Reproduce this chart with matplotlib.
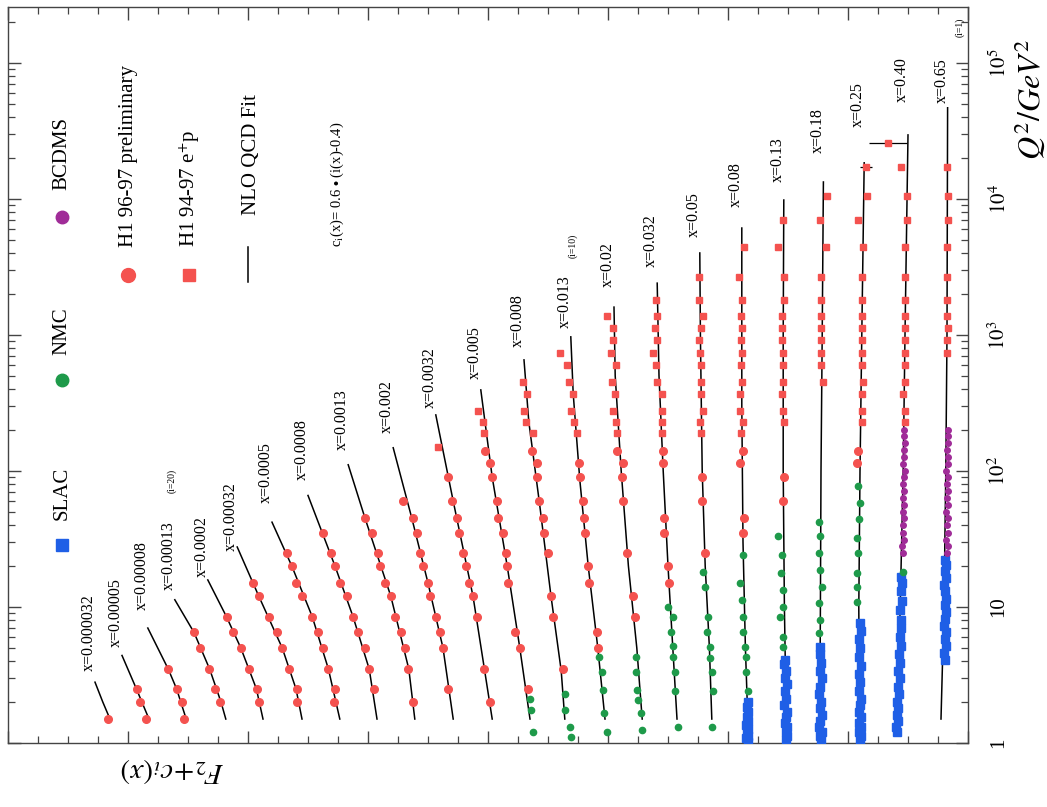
import numpy as np
import matplotlib
matplotlib.use('Agg')
import matplotlib.pyplot as plt
from matplotlib.ticker import MultipleLocator, FixedLocator, LogLocator, FuncFormatter, NullFormatter

plt.rcParams['font.family'] = ['Liberation Serif', 'DejaVu Serif']
plt.rcParams['mathtext.fontset'] = 'stix'

# ---------------- data (bins ordered from smallest x, i=23, to largest x, i=1) ----------------
x_labels = ['x=0.000032', 'x=0.00005', 'x=0.00008', 'x=0.00013', 'x=0.0002', 'x=0.00032',
            'x=0.0005', 'x=0.0008', 'x=0.0013', 'x=0.002', 'x=0.0032', 'x=0.005',
            'x=0.008', 'x=0.013', 'x=0.02', 'x=0.032', 'x=0.05', 'x=0.08',
            'x=0.13', 'x=0.18', 'x=0.25', 'x=0.40', 'x=0.65']

# NLO QCD fit, F2 + c_i(x) vs Q2
fit_q = [[1.5, 2.0, 2.8], [1.5, 2.5, 4.4], [1.5, 2.5, 3.5, 7.0], [1.5, 2, 3.5, 6.5, 11.3],
         [1.5, 2.5, 5, 8.5, 15.8], [1.5, 2.5, 5, 12, 27.6], [1.5, 3.5, 8.5, 20, 42],
         [1.5, 3.5, 8.5, 20, 66], [1.5, 3.5, 12, 45, 111], [1.5, 5, 15, 45, 148],
         [1.5, 3.5, 12, 60, 258], [1.5, 5, 20, 90, 394], [1.5, 3.4, 12, 57, 230, 655],
         [1.5, 5, 20, 86, 370, 967], [1.5, 5, 20, 100, 500, 1600], [1.5, 5, 20, 100, 500, 2400],
         [1.5, 5, 20, 100, 1000, 4000], [1.5, 5, 30, 300, 6100], [1.5, 10, 100, 1000, 9800],
         [1.5, 10, 100, 1000, 13300], [1.5, 10, 100, 1000, 18400], [1.5, 10, 100, 1000, 29500],
         [1.5, 10, 100, 1000, 46700]]
fit_v = [[14.30, 14.42, 14.55], [13.65, 13.86, 14.10], [13.03, 13.19, 13.33, 13.67],
         [12.37, 12.45, 12.64, 12.90, 13.22], [11.75, 11.86, 12.12, 12.36, 12.67],
         [11.10, 11.20, 11.43, 11.82, 12.18], [10.47, 10.66, 10.93, 11.27, 11.60],
         [9.85, 9.98, 10.25, 10.55, 11.0], [9.22, 9.32, 9.62, 10.05, 10.33],
         [8.58, 8.75, 9.0, 9.27, 9.58], [7.93, 8.06, 8.25, 8.58, 8.87],
         [7.30, 7.47, 7.68, 7.93, 8.12], [6.72, 6.78, 6.95, 7.14, 7.32, 7.40],
         [6.05, 6.17, 6.33, 6.47, 6.58, 6.62], [5.43, 5.52, 5.66, 5.78, 5.88, 5.90],
         [4.85, 4.92, 5.0, 5.08, 5.15, 5.18], [4.27, 4.31, 4.38, 4.43, 4.46, 4.47],
         [3.67, 3.71, 3.75, 3.77, 3.77], [3.03, 3.06, 3.08, 3.08, 3.07],
         [2.47, 2.46, 2.45, 2.43, 2.41], [1.81, 1.82, 1.80, 1.77, 1.73],
         [1.18, 1.13, 1.08, 1.05, 1.00], [0.45, 0.40, 0.37, 0.35, 0.34]]

# H1 96-97 preliminary (circles)
h1c_q = [[1.5], [1.5, 2.0, 2.5], [1.5, 2.0, 2.5, 3.5], [2, 2.5, 3.5, 5, 6.5],
         [2, 2.5, 3.5, 5, 6.5, 8.5], [2, 2.5, 3.5, 5, 6.5, 8.5, 12, 15],
         [2, 2.5, 3.5, 5, 6.5, 8.5, 12, 15, 20, 25], [2.5, 3.5, 5, 6.5, 8.5, 12, 15, 20, 25, 35],
         [2, 3.5, 5, 6.5, 8.5, 12, 15, 20, 25, 35, 45], [2.5, 5, 6.5, 8.5, 12, 15, 20, 25, 35, 45, 60],
         [2, 3.5, 8.5, 12, 15, 20, 25, 35, 45, 60, 90],
         [2.5, 5, 6.5, 15, 20, 25, 35, 45, 60, 90, 115, 140],
         [3.5, 8.5, 12, 25, 35, 45, 60, 90, 115, 140], [5, 6.5, 15, 20, 35, 45, 60, 90, 115],
         [8.5, 12, 25, 60, 90, 115, 140], [15, 20, 35, 45, 115, 140], [25, 60, 90],
         [35, 45, 115, 140], [60, 90], [], [115, 140], [], []]
h1c_v = [[14.33], [13.70, 13.80, 13.85], [13.07, 13.10, 13.18, 13.33], [12.47, 12.55, 12.65, 12.80, 12.90],
         [11.82, 11.85, 11.98, 12.12, 12.25, 12.35], [11.18, 11.18, 11.32, 11.43, 11.52, 11.65, 11.82, 11.92],
         [10.57, 10.55, 10.67, 10.75, 10.83, 10.93, 11.10, 11.20, 11.27, 11.35],
         [9.90, 9.98, 10.05, 10.17, 10.25, 10.35, 10.47, 10.55, 10.62, 10.75],
         [9.25, 9.33, 9.38, 9.45, 9.55, 9.62, 9.72, 9.80, 9.83, 9.93, 10.05],
         [8.67, 8.75, 8.80, 8.87, 8.97, 9.00, 9.08, 9.13, 9.18, 9.25, 9.42],
         [7.97, 8.07, 8.18, 8.25, 8.32, 8.37, 8.42, 8.48, 8.52, 8.60, 8.67],
         [7.33, 7.47, 7.55, 7.67, 7.68, 7.70, 7.75, 7.83, 7.85, 7.93, 7.97, 8.05],
         [6.75, 6.92, 6.95, 7.00, 7.07, 7.08, 7.15, 7.18, 7.18, 7.27],
         [6.17, 6.18, 6.32, 6.33, 6.38, 6.40, 6.42, 6.47, 6.48],
         [5.55, 5.58, 5.68, 5.75, 5.77, 5.75, 5.85], [4.98, 5.00, 5.07, 5.07, 5.08, 5.08],
         [4.38, 4.43, 4.43], [3.75, 3.73, 3.80, 3.75], [3.08, 3.07], [], [1.85, 1.83], [], []]

# H1 94-97 e+p (squares)
h1s_q = [[], [], [], [], [], [], [], [], [], [], [150], [190, 230, 276],
         [190, 230, 276, 368, 451], [190, 230, 276, 368, 451, 602, 738],
         [190, 230, 276, 368, 451, 602, 738, 919, 1125, 1380],
         [190, 230, 276, 368, 451, 602, 738, 919, 1125, 1380, 1807],
         [190, 230, 276, 368, 451, 602, 738, 919, 1125, 1380, 1807, 2670],
         [190, 230, 276, 368, 451, 602, 738, 919, 1125, 1380, 1807, 2670, 4440],
         [230, 276, 368, 451, 602, 738, 919, 1125, 1380, 1807, 2670, 4440, 7010],
         [451, 602, 738, 919, 1125, 1380, 1807, 2670, 4440, 7010, 10500],
         [230, 276, 368, 451, 602, 738, 919, 1125, 1380, 1807, 2670, 4440, 7010, 10500, 17200],
         [230, 276, 368, 451, 602, 738, 919, 1125, 1380, 1807, 2670, 4440, 7010, 10500, 17200, 25800],
         [738, 919, 1125, 1380, 1807, 2670, 4440, 7010, 10500, 17200]]
h1s_v = [[], [], [], [], [], [], [], [], [], [], [8.83], [8.07, 8.08, 8.17],
         [7.25, 7.37, 7.40, 7.35, 7.42], [6.52, 6.57, 6.62, 6.58, 6.65, 6.68, 6.80],
         [5.85, 5.87, 5.92, 5.88, 5.93, 5.87, 5.95, 5.92, 5.92, 6.02],
         [5.10, 5.10, 5.10, 5.10, 5.18, 5.20, 5.25, 5.18, 5.22, 5.18, 5.20],
         [4.45, 4.47, 4.42, 4.45, 4.45, 4.45, 4.47, 4.48, 4.45, 4.42, 4.48, 4.48],
         [3.78, 3.75, 3.80, 3.80, 3.77, 3.78, 3.77, 3.78, 3.77, 3.78, 3.77, 3.82, 3.73],
         [3.07, 3.08, 3.10, 3.08, 3.08, 3.08, 3.10, 3.10, 3.10, 3.07, 3.07, 3.17, 3.08],
         [2.42, 2.45, 2.45, 2.45, 2.45, 2.45, 2.45, 2.45, 2.37, 2.47, 2.35],
         [1.77, 1.77, 1.77, 1.75, 1.77, 1.77, 1.77, 1.77, 1.77, 1.77, 1.77, 1.75, 1.83, 1.68, 1.70],
         [1.05, 1.05, 1.08, 1.05, 1.05, 1.05, 1.05, 1.05, 1.05, 1.05, 1.05, 1.05, 1.02, 1.02, 1.12, 1.33],
         [0.35, 0.35, 0.34, 0.35, 0.35, 0.35, 0.35, 0.34, 0.33, 0.35]]
# horizontal error bars on the two highest-Q2 points
err_bin = [20, 21]
err_q = [17200, 25800]
err_v = [1.70, 1.33]
err_dv = [0.10, 0.32]

# NMC
nmc_q = [[], [], [], [], [], [], [], [], [], [], [], [1.2, 1.75, 2.1], [1.1, 1.3, 1.75, 2.3],
         [1.2, 1.65, 2.45, 3.3, 4.3], [1.25, 1.66, 2.07, 2.45, 3.3, 4.3],
         [1.3, 2.4, 3.3, 4.3, 5.2, 6.5, 8.4, 10], [1.3, 2.4, 3.3, 4.2, 5.1, 6.5, 8.4, 14, 18],
         [2.4, 3.3, 4.3, 5.1, 6.5, 8.4, 11.3, 15, 24], [5.1, 6, 8.4, 10, 13.3, 17.8, 24, 33],
         [6.4, 8, 10.7, 14, 18.7, 25, 33, 42], [10.8, 14, 17.8, 25, 32, 44, 58, 78], [18], []]
nmc_v = [[], [], [], [], [], [], [], [], [], [], [], [7.25, 7.28, 7.30], [6.62, 6.63, 6.72, 6.72],
         [6.02, 6.07, 6.08, 6.10, 6.15], [5.43, 5.45, 5.50, 5.52, 5.53, 5.53],
         [4.83, 4.88, 4.88, 4.92, 4.92, 4.95, 4.92, 5.00], [4.27, 4.25, 4.27, 4.30, 4.30, 4.35, 4.33, 4.38, 4.42],
         [3.67, 3.70, 3.70, 3.72, 3.75, 3.75, 3.77, 3.80, 3.75], [3.08, 3.08, 3.13, 3.08, 3.08, 3.12, 3.10, 3.17],
         [2.48, 2.47, 2.48, 2.43, 2.47, 2.48, 2.47, 2.48], [1.85, 1.85, 1.85, 1.83, 1.85, 1.82, 1.80, 1.83],
         [1.08], []]

# SLAC
slac_q = [[]] * 17 + [
    [1.02, 1.08, 1.12, 1.2, 1.27, 1.35, 1.45, 1.55, 1.7, 1.85, 2.0],
    [1.05, 1.12, 1.2, 1.3, 1.4, 1.55, 1.7, 1.9, 2.1, 2.4, 2.7, 3.0, 3.4, 3.8, 4.1],
    [1.05, 1.12, 1.2, 1.3, 1.45, 1.6, 1.8, 2.0, 2.3, 2.6, 3.0, 3.4, 3.9, 4.5, 5.1],
    [1.05, 1.12, 1.2, 1.3, 1.4, 1.55, 1.7, 1.9, 2.1, 2.4, 2.8, 3.2, 3.7, 4.3, 5.0, 5.8, 6.7, 7.6],
    [1.2, 1.3, 1.45, 1.6, 1.8, 2.0, 2.3, 2.6, 3.0, 3.4, 3.9, 4.5, 5.2, 6.0, 7.0, 8.0, 9.5, 11, 13, 15, 16.6],
    [4.1, 4.6, 5.2, 5.8, 6.5, 7.3, 8.2, 9.2, 10.3, 11.5, 13, 14.5, 16.3, 18.3, 20.5, 22]]
slac_v = [[]] * 17 + [
    [3.67, 3.70, 3.66, 3.69, 3.67, 3.70, 3.66, 3.68, 3.67, 3.69, 3.67],
    [3.03, 3.01, 3.04, 3.02, 3.05, 3.03, 3.02, 3.06, 3.03, 3.05, 3.02, 3.05, 3.04, 3.06, 3.05],
    [2.45, 2.47, 2.44, 2.48, 2.46, 2.44, 2.47, 2.45, 2.48, 2.46, 2.44, 2.47, 2.45, 2.46, 2.47],
    [1.80, 1.78, 1.82, 1.79, 1.81, 1.78, 1.82, 1.80, 1.79, 1.81, 1.80, 1.82, 1.79, 1.81, 1.80, 1.82, 1.79, 1.80],
    [1.18, 1.20, 1.17, 1.19, 1.16, 1.18, 1.15, 1.17, 1.14, 1.16, 1.13, 1.15, 1.12, 1.14, 1.12, 1.11, 1.13, 1.10, 1.12, 1.10, 1.11],
    [0.38, 0.40, 0.37, 0.39, 0.36, 0.40, 0.38, 0.37, 0.39, 0.36, 0.38, 0.40, 0.37, 0.38, 0.36, 0.38]]

# BCDMS
bcdms_q = [[]] * 21 + [
    [25, 28, 31, 35, 40, 45, 50, 56, 63, 71, 80, 90, 100, 113, 127, 142, 160, 180, 200],
    [25, 28, 31, 35, 40, 45, 50, 56, 63, 71, 80, 90, 100, 113, 127, 142, 160, 180, 200]]
bcdms_v = [[]] * 21 + [
    [1.08, 1.10, 1.07, 1.09, 1.08, 1.06, 1.09, 1.07, 1.08, 1.06, 1.08, 1.07, 1.05, 1.08, 1.06, 1.07, 1.05, 1.07, 1.06],
    [0.35, 0.33, 0.36, 0.34, 0.35, 0.33, 0.36, 0.34, 0.35, 0.33, 0.35, 0.34, 0.36, 0.34, 0.33, 0.35, 0.34, 0.33, 0.34]]

# Q2 at which each x label starts
label_q = [3.4, 5.1, 9.5, 13.3, 16.6, 26, 58, 86, 143, 190, 290, 470, 815, 1125, 2260, 3180,
           5250, 8760, 13300, 21800, 33800, 51600, 50800]
# index-number annotations
index_text = ['(i=20)', '(i=10)', '(i=1)']
index_v = [13.27, 6.58, 0.13]
index_q = [69, 3680, 155000]

# ---------------- styling ----------------
RED = '#f4524f'
GREEN = '#1e9a4a'
BLUE = '#1f5fe6'
PURPLE = '#a02c98'

fig = plt.figure(figsize=(10.47, 8.07), dpi=100)
fig.patch.set_facecolor('white')
ax = fig.add_axes([8 / 1047, 1 - 743 / 807, 960 / 1047, 736 / 807])
ax.set_yscale('log')
ax.set_xlim(16, 0)
ax.set_ylim(1, 10 ** 5.41)

for k in range(len(x_labels)):
    ax.plot(fit_v[k], fit_q[k], color='black', lw=1.1, zorder=2)
    if slac_q[k]:
        ax.plot(slac_v[k], slac_q[k], 's', color=BLUE, ms=5.5, mec=BLUE, zorder=3)
    if bcdms_q[k]:
        ax.plot(bcdms_v[k], bcdms_q[k], 'o', color=PURPLE, ms=4, mec=PURPLE, zorder=3)
    if nmc_q[k]:
        ax.plot(nmc_v[k], nmc_q[k], 'o', color=GREEN, ms=4.5, mec=GREEN, zorder=3)
    if h1c_q[k]:
        ax.plot(h1c_v[k], h1c_q[k], 'o', color=RED, ms=5.5, mec=RED, zorder=4)
    if h1s_q[k]:
        ax.plot(h1s_v[k], h1s_q[k], 's', color=RED, ms=5, mec=RED, zorder=4)
    ax.text(fit_v[k][-1] + 0.1, label_q[k], x_labels[k], rotation=90, ha='center', va='bottom',
            fontsize=11.5, zorder=5)

for b, q, v, dv in zip(err_bin, err_q, err_v, err_dv):
    ax.errorbar([v], [q], xerr=[dv], fmt='none', ecolor='black', elinewidth=0.9, capsize=0, zorder=3)

for t, v, q in zip(index_text, index_v, index_q):
    ax.text(v, q, t, rotation=90, ha='center', va='bottom', fontsize=7)

# axes ticks
ax.xaxis.set_major_locator(MultipleLocator(2))
ax.xaxis.set_minor_locator(MultipleLocator(0.5))
ax.tick_params(axis='x', which='both', direction='in', top=True, bottom=True,
               labelbottom=False, labeltop=False, color='#444444')
ax.tick_params(axis='x', which='major', length=9, width=1.0)
ax.tick_params(axis='x', which='minor', length=5, width=0.9)

ax.yaxis.set_major_locator(FixedLocator([1, 10, 100, 1000, 1e4, 1e5]))
ax.yaxis.set_minor_locator(LogLocator(base=10, subs=np.arange(2, 10), numticks=20))
ax.yaxis.set_minor_formatter(NullFormatter())


def qfmt(val, pos):
    e = int(round(np.log10(val)))
    if e == 0:
        return '1'
    if e == 1:
        return '10'
    return r'$10^{%d}$' % e


ax.yaxis.set_major_formatter(FuncFormatter(qfmt))
ax.tick_params(axis='y', which='both', direction='in', left=True, right=True,
               labelleft=False, labelright=True, color='#444444')
ax.tick_params(axis='y', which='major', length=9, width=1.0, labelsize=15, pad=15)
ax.tick_params(axis='y', which='minor', length=5, width=0.9)
for lab in ax.get_yticklabels():
    lab.set_rotation(90)
    lab.set_va('center')

for s in ax.spines.values():
    s.set_linewidth(1.0)
    s.set_color('#444444')

# axis titles
fig.text(1030 / 1047, 1 - 100 / 807, r'$Q^2/GeV^2$', rotation=90, ha='center', va='center', fontsize=23)
fig.text(172 / 1047, 1 - 771 / 807, r'$F_2\!+\!c_i(x)$', rotation=180, ha='center', va='center', fontsize=21)

# legend (drawn rotated, like the rest of the figure)
T = ax.transAxes
ax.plot([0.056], [0.269], 's', color=BLUE, ms=9, transform=T, clip_on=False)
ax.text(0.056, 0.303, 'SLAC', rotation=90, ha='center', va='bottom', fontsize=15, transform=T)
ax.plot([0.056], [0.493], 'o', color=GREEN, ms=9, transform=T)
ax.text(0.056, 0.527, 'NMC', rotation=90, ha='center', va='bottom', fontsize=15, transform=T)
ax.plot([0.056], [0.715], 'o', color=PURPLE, ms=9, transform=T)
ax.text(0.056, 0.751, 'BCDMS', rotation=90, ha='center', va='bottom', fontsize=15, transform=T)
ax.plot([0.125], [0.636], 'o', color=RED, ms=10, transform=T)
ax.text(0.125, 0.674, 'H1 96-97 preliminary', rotation=90, ha='center', va='bottom', fontsize=15, transform=T)
ax.plot([0.189], [0.636], 's', color=RED, ms=9, transform=T)
ax.text(0.189, 0.674, r'H1 94-97 e$^{+}$p', rotation=90, ha='center', va='bottom', fontsize=15, transform=T)
ax.plot([0.250, 0.250], [0.626, 0.674], color='black', lw=1.1, transform=T)
ax.text(0.254, 0.717, 'NLO QCD Fit', rotation=90, ha='center', va='bottom', fontsize=15, transform=T)
ax.text(0.343, 0.674, r'c$_{\mathrm{i}}$(x)= 0.6 $\bullet$ (i(x)-0.4)', rotation=90, ha='center', va='bottom',
        fontsize=10.5, transform=T)

fig.savefig('out.png', dpi=100, facecolor='white')
